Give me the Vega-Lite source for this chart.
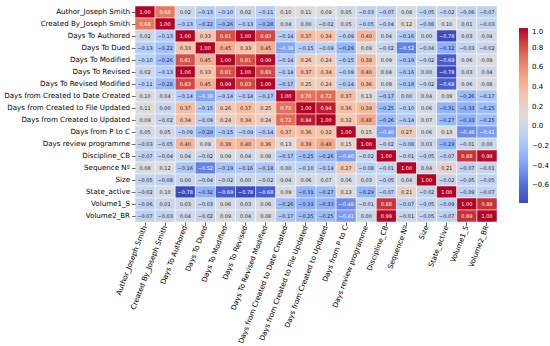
{
  "$schema": "https://vega.github.io/schema/vega-lite/v6.json",
  "width": 362,
  "height": 216,
  "padding": {"left": 3, "top": 5, "right": 0, "bottom": 0},
  "background": "white",
  "config": {
    "view": {"stroke": null},
    "font": "DejaVu Sans",
    "axis": {"labelFont": "DejaVu Sans", "labelFontSize": 7.1, "labelColor": "#000000", "tickColor": "#000000", "tickSize": 3.5, "tickWidth": 0.6, "domain": false, "grid": false, "title": null, "labelPadding": 2}
  },
  "datasets": {
    "names": [
      {"i": 0, "n": "Author_Joseph Smith"},
      {"i": 1, "n": "Created By_Joseph Smith"},
      {"i": 2, "n": "Days To Authored"},
      {"i": 3, "n": "Days To Dued"},
      {"i": 4, "n": "Days To Modified"},
      {"i": 5, "n": "Days To Revised"},
      {"i": 6, "n": "Days To Revised Modified"},
      {"i": 7, "n": "Days from Created to Date Created"},
      {"i": 8, "n": "Days from Created to File Updated"},
      {"i": 9, "n": "Days from Created to Updated"},
      {"i": 10, "n": "Days from P to C"},
      {"i": 11, "n": "Days review programme"},
      {"i": 12, "n": "Discipline_CB"},
      {"i": 13, "n": "Sequence Nº"},
      {"i": 14, "n": "Size"},
      {"i": 15, "n": "State_active"},
      {"i": 16, "n": "Volume1_S"},
      {"i": 17, "n": "Volume2_BR"}
    ],
    "cells": [
{"r":0,"c":0,"v":1},{"r":0,"c":1,"v":0.68},{"r":0,"c":2,"v":0.02},{"r":0,"c":3,"v":-0.13},{"r":0,"c":4,"v":-0.10},{"r":0,"c":5,"v":0.02},{"r":0,"c":6,"v":-0.11},{"r":0,"c":7,"v":0.10},{"r":0,"c":8,"v":0.11},{"r":0,"c":9,"v":0.09},{"r":0,"c":10,"v":0.05},{"r":0,"c":11,"v":-0.03},{"r":0,"c":12,"v":-0.07},{"r":0,"c":13,"v":0.08},{"r":0,"c":14,"v":-0.05},{"r":0,"c":15,"v":-0.02},{"r":0,"c":16,"v":-0.06},{"r":0,"c":17,"v":-0.07},
{"r":1,"c":0,"v":0.68},{"r":1,"c":1,"v":1},{"r":1,"c":2,"v":-0.13},{"r":1,"c":3,"v":-0.22},{"r":1,"c":4,"v":-0.26},{"r":1,"c":5,"v":-0.13},{"r":1,"c":6,"v":-0.28},{"r":1,"c":7,"v":0.04},{"r":1,"c":8,"v":-0.00},{"r":1,"c":9,"v":-0.02},{"r":1,"c":10,"v":0.05},{"r":1,"c":11,"v":-0.05},{"r":1,"c":12,"v":-0.04},{"r":1,"c":13,"v":0.12},{"r":1,"c":14,"v":-0.08},{"r":1,"c":15,"v":0.10},{"r":1,"c":16,"v":0.01},{"r":1,"c":17,"v":-0.03},
{"r":2,"c":0,"v":0.02},{"r":2,"c":1,"v":-0.13},{"r":2,"c":2,"v":1},{"r":2,"c":3,"v":0.33},{"r":2,"c":4,"v":0.81},{"r":2,"c":5,"v":1},{"r":2,"c":6,"v":0.83},{"r":2,"c":7,"v":-0.14},{"r":2,"c":8,"v":0.37},{"r":2,"c":9,"v":0.34},{"r":2,"c":10,"v":-0.09},{"r":2,"c":11,"v":0.40},{"r":2,"c":12,"v":0.04},{"r":2,"c":13,"v":-0.16},{"r":2,"c":14,"v":0.00},{"r":2,"c":15,"v":-0.78},{"r":2,"c":16,"v":0.03},{"r":2,"c":17,"v":0.04},
{"r":3,"c":0,"v":-0.13},{"r":3,"c":1,"v":-0.22},{"r":3,"c":2,"v":0.33},{"r":3,"c":3,"v":1},{"r":3,"c":4,"v":0.45},{"r":3,"c":5,"v":0.33},{"r":3,"c":6,"v":0.45},{"r":3,"c":7,"v":-0.38},{"r":3,"c":8,"v":-0.15},{"r":3,"c":9,"v":-0.09},{"r":3,"c":10,"v":-0.29},{"r":3,"c":11,"v":0.09},{"r":3,"c":12,"v":-0.02},{"r":3,"c":13,"v":-0.52},{"r":3,"c":14,"v":-0.04},{"r":3,"c":15,"v":-0.32},{"r":3,"c":16,"v":-0.03},{"r":3,"c":17,"v":-0.02},
{"r":4,"c":0,"v":-0.10},{"r":4,"c":1,"v":-0.26},{"r":4,"c":2,"v":0.81},{"r":4,"c":3,"v":0.45},{"r":4,"c":4,"v":1},{"r":4,"c":5,"v":0.81},{"r":4,"c":6,"v":0.99},{"r":4,"c":7,"v":-0.14},{"r":4,"c":8,"v":0.26},{"r":4,"c":9,"v":0.24},{"r":4,"c":10,"v":-0.15},{"r":4,"c":11,"v":0.38},{"r":4,"c":12,"v":0.09},{"r":4,"c":13,"v":-0.19},{"r":4,"c":14,"v":-0.02},{"r":4,"c":15,"v":-0.69},{"r":4,"c":16,"v":0.06},{"r":4,"c":17,"v":0.09},
{"r":5,"c":0,"v":0.02},{"r":5,"c":1,"v":-0.13},{"r":5,"c":2,"v":1},{"r":5,"c":3,"v":0.33},{"r":5,"c":4,"v":0.81},{"r":5,"c":5,"v":1},{"r":5,"c":6,"v":0.83},{"r":5,"c":7,"v":-0.14},{"r":5,"c":8,"v":0.37},{"r":5,"c":9,"v":0.34},{"r":5,"c":10,"v":-0.09},{"r":5,"c":11,"v":0.40},{"r":5,"c":12,"v":0.04},{"r":5,"c":13,"v":-0.16},{"r":5,"c":14,"v":0.00},{"r":5,"c":15,"v":-0.78},{"r":5,"c":16,"v":0.03},{"r":5,"c":17,"v":0.04},
{"r":6,"c":0,"v":-0.11},{"r":6,"c":1,"v":-0.28},{"r":6,"c":2,"v":0.83},{"r":6,"c":3,"v":0.45},{"r":6,"c":4,"v":0.99},{"r":6,"c":5,"v":0.83},{"r":6,"c":6,"v":1},{"r":6,"c":7,"v":-0.17},{"r":6,"c":8,"v":0.25},{"r":6,"c":9,"v":0.24},{"r":6,"c":10,"v":-0.14},{"r":6,"c":11,"v":0.36},{"r":6,"c":12,"v":0.08},{"r":6,"c":13,"v":-0.18},{"r":6,"c":14,"v":-0.02},{"r":6,"c":15,"v":-0.68},{"r":6,"c":16,"v":0.06},{"r":6,"c":17,"v":0.08},
{"r":7,"c":0,"v":0.10},{"r":7,"c":1,"v":0.04},{"r":7,"c":2,"v":-0.14},{"r":7,"c":3,"v":-0.38},{"r":7,"c":4,"v":-0.14},{"r":7,"c":5,"v":-0.14},{"r":7,"c":6,"v":-0.17},{"r":7,"c":7,"v":1},{"r":7,"c":8,"v":0.70},{"r":7,"c":9,"v":0.72},{"r":7,"c":10,"v":0.37},{"r":7,"c":11,"v":0.13},{"r":7,"c":12,"v":-0.17},{"r":7,"c":13,"v":0.00},{"r":7,"c":14,"v":0.04},{"r":7,"c":15,"v":0.09},{"r":7,"c":16,"v":-0.26},{"r":7,"c":17,"v":-0.17},
{"r":8,"c":0,"v":0.11},{"r":8,"c":1,"v":-0.00},{"r":8,"c":2,"v":0.37},{"r":8,"c":3,"v":-0.15},{"r":8,"c":4,"v":0.26},{"r":8,"c":5,"v":0.37},{"r":8,"c":6,"v":0.25},{"r":8,"c":7,"v":0.70},{"r":8,"c":8,"v":1},{"r":8,"c":9,"v":0.94},{"r":8,"c":10,"v":0.36},{"r":8,"c":11,"v":0.39},{"r":8,"c":12,"v":-0.25},{"r":8,"c":13,"v":-0.10},{"r":8,"c":14,"v":0.06},{"r":8,"c":15,"v":-0.31},{"r":8,"c":16,"v":-0.33},{"r":8,"c":17,"v":-0.25},
{"r":9,"c":0,"v":0.09},{"r":9,"c":1,"v":-0.02},{"r":9,"c":2,"v":0.34},{"r":9,"c":3,"v":-0.09},{"r":9,"c":4,"v":0.24},{"r":9,"c":5,"v":0.34},{"r":9,"c":6,"v":0.24},{"r":9,"c":7,"v":0.72},{"r":9,"c":8,"v":0.94},{"r":9,"c":9,"v":1},{"r":9,"c":10,"v":0.32},{"r":9,"c":11,"v":0.48},{"r":9,"c":12,"v":-0.26},{"r":9,"c":13,"v":-0.14},{"r":9,"c":14,"v":0.07},{"r":9,"c":15,"v":-0.27},{"r":9,"c":16,"v":-0.33},{"r":9,"c":17,"v":-0.25},
{"r":10,"c":0,"v":0.05},{"r":10,"c":1,"v":0.05},{"r":10,"c":2,"v":-0.09},{"r":10,"c":3,"v":-0.29},{"r":10,"c":4,"v":-0.15},{"r":10,"c":5,"v":-0.09},{"r":10,"c":6,"v":-0.14},{"r":10,"c":7,"v":0.37},{"r":10,"c":8,"v":0.36},{"r":10,"c":9,"v":0.32},{"r":10,"c":10,"v":1},{"r":10,"c":11,"v":0.15},{"r":10,"c":12,"v":-0.40},{"r":10,"c":13,"v":0.27},{"r":10,"c":14,"v":0.06},{"r":10,"c":15,"v":0.13},{"r":10,"c":16,"v":-0.48},{"r":10,"c":17,"v":-0.41},
{"r":11,"c":0,"v":-0.03},{"r":11,"c":1,"v":-0.05},{"r":11,"c":2,"v":0.40},{"r":11,"c":3,"v":0.09},{"r":11,"c":4,"v":0.38},{"r":11,"c":5,"v":0.40},{"r":11,"c":6,"v":0.36},{"r":11,"c":7,"v":0.13},{"r":11,"c":8,"v":0.39},{"r":11,"c":9,"v":0.48},{"r":11,"c":10,"v":0.15},{"r":11,"c":11,"v":1},{"r":11,"c":12,"v":-0.02},{"r":11,"c":13,"v":-0.08},{"r":11,"c":14,"v":0.03},{"r":11,"c":15,"v":-0.29},{"r":11,"c":16,"v":-0.01},{"r":11,"c":17,"v":-0.00},
{"r":12,"c":0,"v":-0.07},{"r":12,"c":1,"v":-0.04},{"r":12,"c":2,"v":0.04},{"r":12,"c":3,"v":-0.02},{"r":12,"c":4,"v":0.09},{"r":12,"c":5,"v":0.04},{"r":12,"c":6,"v":0.08},{"r":12,"c":7,"v":-0.17},{"r":12,"c":8,"v":-0.25},{"r":12,"c":9,"v":-0.26},{"r":12,"c":10,"v":-0.40},{"r":12,"c":11,"v":-0.02},{"r":12,"c":12,"v":1},{"r":12,"c":13,"v":-0.01},{"r":12,"c":14,"v":-0.05},{"r":12,"c":15,"v":-0.07},{"r":12,"c":16,"v":0.88},{"r":12,"c":17,"v":0.99},
{"r":13,"c":0,"v":0.08},{"r":13,"c":1,"v":0.12},{"r":13,"c":2,"v":-0.16},{"r":13,"c":3,"v":-0.52},{"r":13,"c":4,"v":-0.19},{"r":13,"c":5,"v":-0.16},{"r":13,"c":6,"v":-0.18},{"r":13,"c":7,"v":0.00},{"r":13,"c":8,"v":-0.10},{"r":13,"c":9,"v":-0.14},{"r":13,"c":10,"v":0.27},{"r":13,"c":11,"v":-0.08},{"r":13,"c":12,"v":-0.01},{"r":13,"c":13,"v":1},{"r":13,"c":14,"v":0.04},{"r":13,"c":15,"v":0.21},{"r":13,"c":16,"v":-0.07},{"r":13,"c":17,"v":-0.01},
{"r":14,"c":0,"v":-0.05},{"r":14,"c":1,"v":-0.08},{"r":14,"c":2,"v":0.00},{"r":14,"c":3,"v":-0.04},{"r":14,"c":4,"v":-0.02},{"r":14,"c":5,"v":0.00},{"r":14,"c":6,"v":-0.02},{"r":14,"c":7,"v":0.04},{"r":14,"c":8,"v":0.06},{"r":14,"c":9,"v":0.07},{"r":14,"c":10,"v":0.06},{"r":14,"c":11,"v":0.03},{"r":14,"c":12,"v":-0.05},{"r":14,"c":13,"v":0.04},{"r":14,"c":14,"v":1},{"r":14,"c":15,"v":-0.02},{"r":14,"c":16,"v":-0.05},{"r":14,"c":17,"v":-0.05},
{"r":15,"c":0,"v":-0.02},{"r":15,"c":1,"v":0.10},{"r":15,"c":2,"v":-0.78},{"r":15,"c":3,"v":-0.32},{"r":15,"c":4,"v":-0.69},{"r":15,"c":5,"v":-0.78},{"r":15,"c":6,"v":-0.68},{"r":15,"c":7,"v":0.09},{"r":15,"c":8,"v":-0.31},{"r":15,"c":9,"v":-0.27},{"r":15,"c":10,"v":0.13},{"r":15,"c":11,"v":-0.29},{"r":15,"c":12,"v":-0.07},{"r":15,"c":13,"v":0.21},{"r":15,"c":14,"v":-0.02},{"r":15,"c":15,"v":1},{"r":15,"c":16,"v":-0.09},{"r":15,"c":17,"v":-0.07},
{"r":16,"c":0,"v":-0.06},{"r":16,"c":1,"v":0.01},{"r":16,"c":2,"v":0.03},{"r":16,"c":3,"v":-0.03},{"r":16,"c":4,"v":0.06},{"r":16,"c":5,"v":0.03},{"r":16,"c":6,"v":0.06},{"r":16,"c":7,"v":-0.26},{"r":16,"c":8,"v":-0.33},{"r":16,"c":9,"v":-0.33},{"r":16,"c":10,"v":-0.48},{"r":16,"c":11,"v":-0.01},{"r":16,"c":12,"v":0.88},{"r":16,"c":13,"v":-0.07},{"r":16,"c":14,"v":-0.05},{"r":16,"c":15,"v":-0.09},{"r":16,"c":16,"v":1},{"r":16,"c":17,"v":0.89},
{"r":17,"c":0,"v":-0.07},{"r":17,"c":1,"v":-0.03},{"r":17,"c":2,"v":0.04},{"r":17,"c":3,"v":-0.02},{"r":17,"c":4,"v":0.09},{"r":17,"c":5,"v":0.04},{"r":17,"c":6,"v":0.08},{"r":17,"c":7,"v":-0.17},{"r":17,"c":8,"v":-0.25},{"r":17,"c":9,"v":-0.25},{"r":17,"c":10,"v":-0.41},{"r":17,"c":11,"v":-0.00},{"r":17,"c":12,"v":0.99},{"r":17,"c":13,"v":-0.01},{"r":17,"c":14,"v":-0.05},{"r":17,"c":15,"v":-0.07},{"r":17,"c":16,"v":0.89},{"r":17,"c":17,"v":1}
    ]
  },
  "data": {"name": "cells"},
  "transform": [
    {"lookup": "r", "from": {"data": {"name": "names"}, "key": "i", "fields": ["n"]}, "as": ["rn"]},
    {"lookup": "c", "from": {"data": {"name": "names"}, "key": "i", "fields": ["n"]}, "as": ["cn"]}
  ],
  "encoding": {
    "x": {"field": "cn", "type": "ordinal", "sort": null, "scale": {"paddingInner": 0, "paddingOuter": 0}, "axis": {"labelAngle": -69, "orient": "bottom", "labelPadding": 0}},
    "y": {"field": "rn", "type": "ordinal", "sort": null, "scale": {"paddingInner": 0, "paddingOuter": 0}}
  },
  "layer": [
    {
      "mark": {"type": "rect", "stroke": "white", "strokeWidth": 0.5},
      "encoding": {
        "color": {
          "field": "v", "type": "quantitative",
          "scale": {
            "domain": [-0.78, -0.5575, -0.335, -0.1125, 0.11, 0.3325, 0.555, 0.7775, 1.0],
            "range": ["#3b4cc0", "#5977e3", "#8db0fe", "#b7cff9", "#dddcdc", "#f5c4ac", "#f49a7b", "#dc5d4a", "#b40426"],
            "interpolate": "rgb"
          },
          "legend": {
            "orient": "none", "legendX": 384, "legendY": 22,
            "direction": "vertical", "gradientLength": 175, "gradientThickness": 9,
            "title": null, "values": [-0.6, -0.4, -0.2, 0, 0.2, 0.4, 0.6, 0.8, 1.0],
            "format": ".1f", "labelFontSize": 7, "labelFont": "DejaVu Sans", "labelColor": "#000000",
            "gradientStrokeWidth": 0, "labelOffset": 4
          }
        }
      }
    },
    {
      "mark": {"type": "text", "fontSize": 5, "font": "DejaVu Sans"},
      "encoding": {
        "text": {"field": "v", "type": "quantitative", "format": ".2f"},
        "color": {"condition": {"test": "datum.v <= -0.35 || datum.v >= 0.6", "value": "#ffffff"}, "value": "#262626"}
      }
    }
  ]
}
